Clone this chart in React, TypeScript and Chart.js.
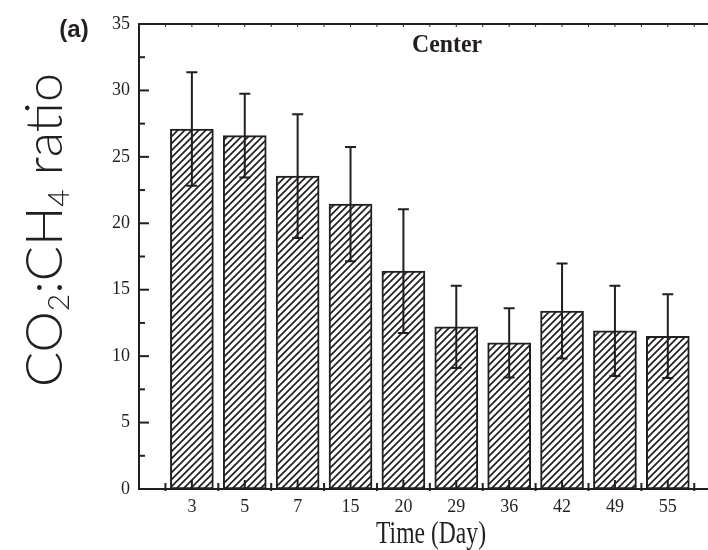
import { useEffect, useRef } from 'react';
import { Chart, registerables } from 'chart.js';

Chart.register(...registerables);

const dayLabels = ['3', '5', '7', '15', '20', '29', '36', '42', '49', '55'];
const ratioValues = [27.1, 26.6, 23.55, 21.45, 16.4, 12.2, 11.0, 13.4, 11.9, 11.5];
const ratioErrors = [4.27, 3.15, 4.65, 4.3, 4.65, 3.1, 2.6, 3.58, 3.4, 3.15];
const yTickValues = [0, 5, 10, 15, 20, 25, 30, 35];
const panelLabel = '(a)';
const siteLabel = 'Center';
const xTitle = 'Time (Day)';

const INK = '#231f20';

function makeHatch(): CanvasPattern | string {
  const s = 7;
  const c = document.createElement('canvas');
  c.width = s;
  c.height = s;
  const g = c.getContext('2d');
  if (!g) return '#fff';
  g.fillStyle = '#ffffff';
  g.fillRect(0, 0, s, s);
  g.strokeStyle = INK;
  g.lineWidth = 1.7;
  g.beginPath();
  g.moveTo(0, s);
  g.lineTo(s, 0);
  g.moveTo(-1, 1);
  g.lineTo(1, -1);
  g.moveTo(s - 1, s + 1);
  g.lineTo(s + 1, s - 1);
  g.stroke();
  return g.createPattern(c, 'repeat') || '#fff';
}

const errorBarPlugin = {
  id: 'errorBars',
  afterDatasetsDraw(chart: any) {
    const { ctx, scales } = chart;
    const xs = scales.x;
    const ys = scales.y;
    ctx.save();
    ctx.strokeStyle = INK;
    ctx.lineWidth = 2;
    ratioValues.forEach((v, i) => {
      const px = xs.getPixelForValue(i + 1);
      const top = ys.getPixelForValue(v + ratioErrors[i]);
      const bot = ys.getPixelForValue(v - ratioErrors[i]);
      ctx.beginPath();
      ctx.moveTo(px, top);
      ctx.lineTo(px, bot);
      ctx.moveTo(px - 5.5, top);
      ctx.lineTo(px + 5.5, top);
      ctx.moveTo(px - 5.5, bot);
      ctx.lineTo(px + 5.5, bot);
      ctx.stroke();
    });
    ctx.restore();
  },
};

const framePlugin = {
  id: 'frameTicks',
  afterDraw(chart: any) {
    const { ctx, chartArea, scales } = chart;
    const xs = scales.x;
    const ys = scales.y;
    ctx.save();
    ctx.strokeStyle = INK;
    ctx.lineWidth = 2;
    ctx.beginPath();
    ctx.moveTo(chartArea.left - 1, chartArea.top);
    ctx.lineTo(chartArea.right, chartArea.top);
    ctx.stroke();
    for (let v = 0; v <= 35; v += 2.5) {
      const py = ys.getPixelForValue(v);
      const len = v % 5 === 0 ? 10 : 6;
      ctx.beginPath();
      ctx.moveTo(chartArea.left, py);
      ctx.lineTo(chartArea.left + len, py);
      ctx.stroke();
    }
    for (let k = 0.5; k <= 10.5; k += 0.5) {
      const px = xs.getPixelForValue(k);
      const major = Number.isInteger(k);
      ctx.lineWidth = 2;
      ctx.beginPath();
      ctx.moveTo(px, chartArea.bottom + (major ? 0 : 2));
      ctx.lineTo(px, chartArea.bottom - (major ? 9 : 6));
      ctx.stroke();
      ctx.lineWidth = 1;
      ctx.beginPath();
      ctx.moveTo(px, chartArea.top);
      ctx.lineTo(px, chartArea.top + 3);
      ctx.stroke();
    }
    ctx.restore();
  },
};

function fillSquished(ctx: any, text: string, font: string, cx: number, baseY: number, targetW: number) {
  ctx.save();
  ctx.font = font;
  const w = ctx.measureText(text).width;
  ctx.translate(cx, baseY);
  ctx.scale(targetW / w, 1);
  ctx.textAlign = 'center';
  ctx.textBaseline = 'alphabetic';
  ctx.fillText(text, 0, 0);
  ctx.restore();
}

const textPlugin = {
  id: 'annotText',
  afterDraw(chart: any) {
    const { ctx, chartArea } = chart;
    ctx.save();
    ctx.fillStyle = INK;
    ctx.font = 'bold 24px "Liberation Sans", Arial, sans-serif';
    ctx.textAlign = 'center';
    ctx.textBaseline = 'middle';
    ctx.fillText(panelLabel, 74, 30);

    fillSquished(ctx, siteLabel, 'bold 26px "Liberation Serif", "Times New Roman", serif', 447, 52, 70);
    fillSquished(ctx, xTitle, '31px "Liberation Serif", "Times New Roman", serif', 431, chartArea.bottom + 54, 110);

    const bigFont = '300 52px Lato, "Open Sans", sans-serif';
    const subFont = '300 30px Lato, "Open Sans", sans-serif';
    const parts: Array<[string, boolean]> = [
      ['CO', false],
      ['2', true],
      [':CH', false],
      ['4', true],
      [' ratio', false],
    ];
    let total = 0;
    const widths: number[] = [];
    parts.forEach(([t, sub]) => {
      ctx.font = sub ? subFont : bigFont;
      const w = ctx.measureText(t).width;
      widths.push(w);
      total += w;
    });
    const targetLen = 314;
    const sx = targetLen / total;
    ctx.translate(62, 387);
    ctx.rotate(-Math.PI / 2);
    ctx.scale(sx, 1);
    ctx.textAlign = 'left';
    ctx.textBaseline = 'alphabetic';
    let cx = 0;
    parts.forEach(([t, sub], i) => {
      ctx.font = sub ? subFont : bigFont;
      ctx.fillText(t, cx, sub ? 7 : 0);
      cx += widths[i];
    });
    ctx.restore();
  },
};

export default function App() {
  const ref = useRef<HTMLCanvasElement | null>(null);

  useEffect(() => {
    if (!ref.current) return;
    const hatch = makeHatch();
    const chart = new Chart(ref.current, {
      type: 'bar',
      data: {
        datasets: [
          {
            data: ratioValues.map((v, i) => ({ x: i + 1, y: v })),
            backgroundColor: hatch as any,
            borderColor: INK,
            borderWidth: 2,
            borderSkipped: false,
            barThickness: 43,
          },
        ],
      },
      options: {
        responsive: false,
        animation: false,
        devicePixelRatio: 1,
        layout: { padding: { top: 24, right: 0, bottom: 0, left: 0 } },
        plugins: {
          legend: { display: false },
          tooltip: { enabled: false },
        },
        scales: {
          x: {
            type: 'linear',
            offset: false,
            min: 0,
            max: 10.76,
            grid: { display: false, drawTicks: false, offset: false },
            border: { display: true, color: INK, width: 2 },
            afterBuildTicks: (s: any) => {
              s.ticks = dayLabels.map((_, i) => ({ value: i + 1 }));
            },
            afterFit: (s: any) => {
              s.height = 61;
            },
            ticks: {
              autoSkip: false,
              maxRotation: 0,
              padding: 7,
              color: INK,
              font: { family: '"Liberation Serif", "Times New Roman", serif', size: 18 },
              callback: (v: any) => dayLabels[Math.round(Number(v)) - 1] ?? '',
            },
          },
          y: {
            min: 0,
            max: 35,
            grid: { display: false, drawTicks: false },
            border: { display: true, color: INK, width: 2 },
            afterBuildTicks: (s: any) => {
              s.ticks = yTickValues.map((v) => ({ value: v }));
            },
            afterFit: (s: any) => {
              s.width = 139;
            },
            ticks: {
              padding: 9,
              color: INK,
              font: { family: '"Liberation Serif", "Times New Roman", serif', size: 18 },
            },
          },
        },
      },
      plugins: [errorBarPlugin, framePlugin, textPlugin],
    });
    return () => chart.destroy();
  }, []);

  return (
    <div style={{ position: 'fixed', left: 0, top: 0, width: 708, height: 550, background: '#fff' }}>
      <canvas ref={ref} width={708} height={550} style={{ display: 'block' }} />
    </div>
  );
}
